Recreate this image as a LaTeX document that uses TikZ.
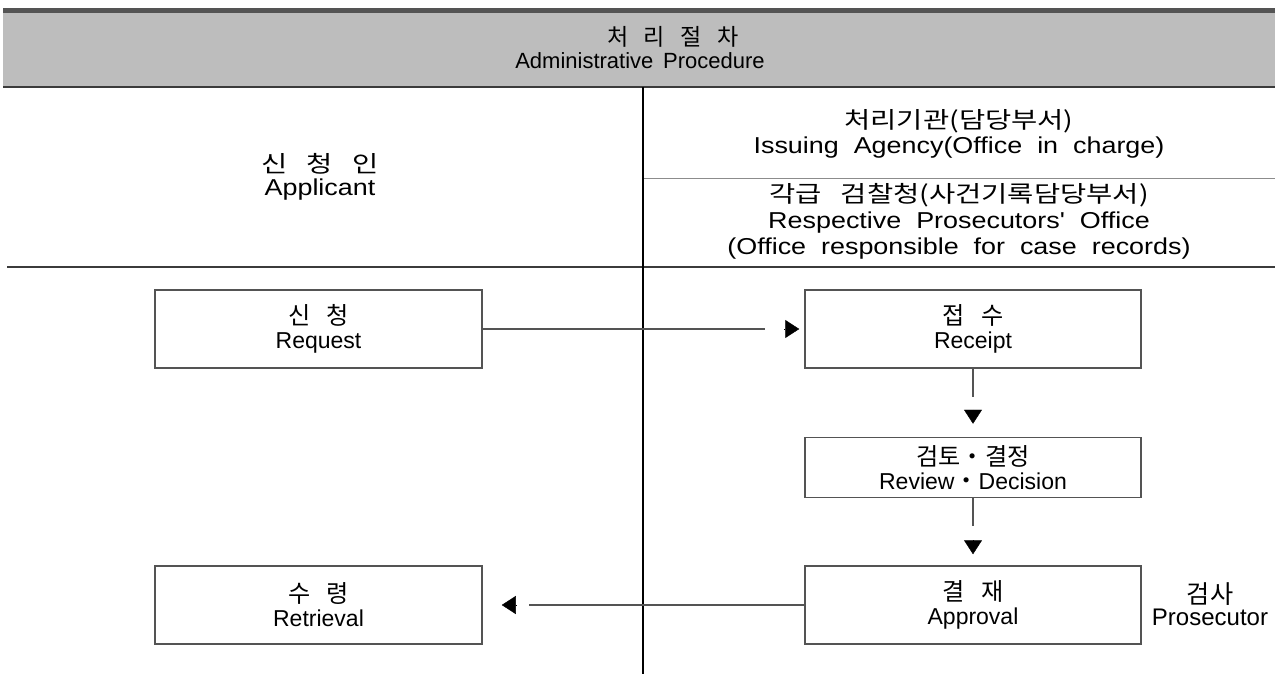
\documentclass[tikz,border=0pt]{standalone}
\usepackage{fontspec}
\setmainfont{Liberation Sans}[WordSpace=1.6]
\newfontfamily\wide{Liberation Sans}[FakeStretch=1.17, WordSpace=2]
\newfontfamily\kr{Noto Sans CJK KR}[WordSpace=3, Scale=1.05]
\newfontfamily\krwide{Noto Sans CJK KR}[WordSpace=3, FakeStretch=1.24]
\usetikzlibrary{arrows.meta}
\usetikzlibrary{positioning}
\definecolor{hgray}{rgb}{0.74, 0.74, 0.74}
\definecolor{dgray}{rgb}{0.33, 0.33, 0.33}
\definecolor{lgray}{rgb}{0.55, 0.55, 0.55}
\lineskiplimit=-40pt

\tikzset{
  heading/.style={align=center, inner sep=0pt},
  column/.style={heading, font=\wide\fontsize{23}{25}\selectfont},
  stage/.style={draw=dgray, line width=1.5pt, minimum width=327pt, minimum height=78pt, align=center, inner sep=0pt},
  flow/.style={dgray, line width=1.3pt},
  head/.style={-{Triangle[length=14pt, width=18pt]}, black},
}

\begin{document}
\begin{tikzpicture}[x=1pt, y=-1pt, font=\fontsize{23}{24}\selectfont]
      \useasboundingbox (0, 0) rectangle (1275, 674);

      \fill [hgray] (3, 13) rectangle (1275, 87);
      \fill [dgray] (3, 8) rectangle (1275, 13);
      \draw [line width=2pt, dgray!70!black] (3, 87) -- (1275, 87);
      \draw [line width=2pt, dgray!70!black] (7, 267) -- (1275, 267);
      \draw [lgray] (643, 178) -- (1275, 178);
      \draw [line width=1.2pt] (643, 87) -- (643, 674);

      \node [heading, font=\fontsize{22}{23}\selectfont] (title) at (640, 48) {\hspace*{66pt}{\kr 처 리 절 차}\\Administrative Procedure};
      \node [column, font=\wide\fontsize{23}{23}\selectfont] (applicant) at (320, 177) {{\krwide 신 청 인}\\Applicant};
      \node [column] (agency) at (959, 134) {{\krwide 처리기관(담당부서)}\\Issuing Agency(Office in charge)};
      \node [column, font=\wide\fontsize{23}{26}\selectfont] (office) at (959, 221) {{\krwide 각급 검찰청(사건기록담당부서)}\\Respective Prosecutors' Office\\(Office responsible for case records)};

      \node [stage] (req) at (318.5, 329) {{\kr 신 청}\\Request};
      \node [stage, minimum width=336pt] (rec) at (973, 329) {{\kr 접 수}\\Receipt};
      \node [stage, minimum width=336pt, minimum height=60pt, below=68pt of rec] (rev) {{\kr 검토・결정}\\Review{\kr ・}Decision};
      \node [stage, minimum width=336pt, below=67pt of rev] (apr) {{\kr 결 재}\\Approval};
      \node [stage] (ret) at (req |- apr) {{\kr 수 령}\\Retrieval};
      \node [heading, font=\fontsize{24}{22}\selectfont] (pros) at (1210, 604) {{\kr 검사}\\Prosecutor};

      \draw [flow] (req.east) -- ([xshift=-39pt]rec.west);
      \draw [head] ([xshift=-20pt]rec.west) -- ([xshift=-5pt]rec.west);
      \draw [flow] (rec.south) -- ([yshift=-28pt]rec.south);
      \draw [head] ([yshift=27pt]rev.north) -- ([yshift=13pt]rev.north);
      \draw [flow] (rev.south) -- ([yshift=-28pt]rev.south);
      \draw [head] ([yshift=25pt]apr.north) -- ([yshift=11pt]apr.north);
      \draw [flow] (apr.west) -- ([xshift=46pt]ret.east);
      \draw [head] ([xshift=34pt]ret.east) -- ([xshift=19pt]ret.east);
    \end{tikzpicture}
\end{document}
